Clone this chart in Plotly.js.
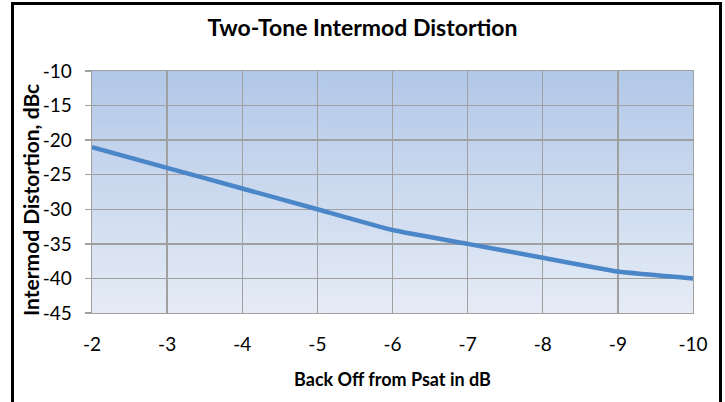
<!DOCTYPE html>
<html>
<head>
<meta charset="utf-8">
<script src="https://cdn.plot.ly/plotly-3.0.1.min.js"></script>
<style>
html,body{margin:0;padding:0;background:#fff;}
#chart{width:725px;height:402px;}
</style>
</head>
<body>
<div id="chart"></div>
<script>
var backOff = [-2, -3, -4, -5, -6, -7, -8, -9, -10];
var imd = [-21, -24, -27, -30, -33, -35, -37, -39, -40];
var yTicks = [-45, -40, -35, -30, -25, -20, -15, -10];
var xTicks = [-2, -3, -4, -5, -6, -7, -8, -9, -10];

// vertical gradient background for the plot area
var cv = document.createElement('canvas');
cv.width = 4; cv.height = 256;
var ctx = cv.getContext('2d');
var g = ctx.createLinearGradient(0, 0, 0, 256);
g.addColorStop(0, '#B2C8E8');
g.addColorStop(1, '#E6ECF6');
ctx.fillStyle = g;
ctx.fillRect(0, 0, 4, 256);
var bgURL = cv.toDataURL('image/png');

var L = 92, R = 32, T = 71, B = 89;
var W = 725 - L - R, H = 402 - T - B;
function px(x) { return (x - L) / W; }
function py(y) { return (402 - B - y) / H; }

var font = 'Lato, "Open Sans", "Liberation Sans", sans-serif';

var trace = {
  x: backOff,
  y: imd,
  type: 'scatter',
  mode: 'lines',
  line: {color: '#4A86C8', width: 4.5, shape: 'spline', smoothing: 0.4},
  hoverinfo: 'x+y'
};

var layout = {
  width: 725,
  height: 402,
  margin: {l: L, r: R, t: T, b: B, pad: 0},
  paper_bgcolor: '#ffffff',
  plot_bgcolor: 'rgba(0,0,0,0)',
  showlegend: false,
  title: {
    text: '<b>Two-Tone Intermod Distortion</b>',
    font: {family: font, size: 23, color: '#000'},
    x: 0.5, xanchor: 'center',
    y: 1 - 28 / 402, yanchor: 'middle'
  },
  xaxis: {
    range: [-2, -10],
    tickvals: xTicks,
    ticktext: xTicks.map(String),
    ticks: '',
    showgrid: true,
    gridcolor: '#A0A0A0',
    gridwidth: 1.3,
    zeroline: false,
    showline: true,
    linecolor: '#A0A0A0',
    linewidth: 1.3,
    mirror: true,
    tickfont: {family: font, size: 19, color: '#000'},
    ticklabelstandoff: 14,
    title: {text: '<b>Back Off from Psat in dB</b>', font: {family: font, size: 18, color: '#000'}, standoff: 19}
  },
  yaxis: {
    range: [-45, -10],
    tickvals: yTicks,
    ticktext: yTicks.map(String),
    ticks: 'outside',
    ticklen: 6,
    tickcolor: '#A0A0A0',
    tickwidth: 1.3,
    showgrid: true,
    gridcolor: '#A0A0A0',
    gridwidth: 1.3,
    zeroline: false,
    showline: true,
    linecolor: '#A0A0A0',
    linewidth: 1.3,
    mirror: true,
    tickfont: {family: font, size: 19, color: '#000'},
    ticklabelstandoff: 9
  },
  annotations: [{
    text: '<b>Intermod Distortion, dBc</b>',
    xref: 'paper', yref: 'paper',
    x: px(30), y: py(200),
    xanchor: 'center', yanchor: 'middle',
    textangle: -90,
    showarrow: false,
    font: {family: font, size: 21, color: '#000'}
  }],
  images: [{
    source: bgURL,
    xref: 'x domain', yref: 'y domain',
    x: 0, y: 1, sizex: 1, sizey: 1,
    xanchor: 'left', yanchor: 'top',
    sizing: 'stretch',
    layer: 'below'
  }],
  shapes: [{
    type: 'rect',
    xref: 'paper', yref: 'paper',
    x0: px(12.5), x1: px(720.5),
    y0: py(420), y1: py(3.5),
    line: {color: '#000', width: 3},
    fillcolor: 'rgba(0,0,0,0)'
  }]
};

Plotly.newPlot('chart', [trace], layout, {displayModeBar: false, staticPlot: true});
</script>
</body>
</html>
